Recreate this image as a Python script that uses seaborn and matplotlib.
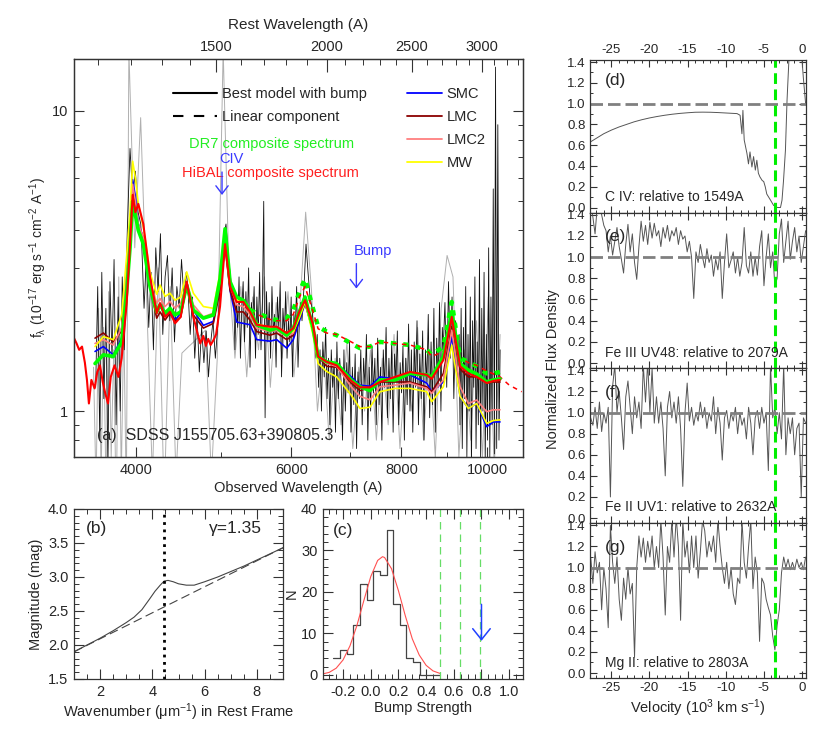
import numpy as np
import pandas as pd
import matplotlib
matplotlib.use("Agg")
import matplotlib.pyplot as plt
import seaborn as sns
from matplotlib.ticker import (FixedLocator, FixedFormatter, MultipleLocator,
                               NullFormatter, LogLocator, FormatStrFormatter)
from matplotlib.lines import Line2D

# ---------------- DATA ----------------
ONE_PLUS_Z = 3.29

# panel (a): model / composite curves (observed wavelength, flux)
model_wave = [3594, 3673, 3770, 3853, 3904, 3938, 3965, 3993, 4024, 4077,
              4149, 4222, 4259, 4315, 4371, 4429, 4495, 4566, 4646, 4769,
              4895, 4981, 5047, 5113, 5202, 5293, 5387, 5481, 5676, 5776,
              5929, 6031, 6130, 6219, 6348, 6435, 6580, 6754, 7016, 7178,
              7369, 7563, 7868, 8180, 8544, 8657, 8925, 9122, 9322, 9526,
              9735, 9993, 10168, 10347]
mw_flux = [1.64, 1.77, 1.73, 2.1, 3.3, 4.6, 6.8, 6.0, 4.9, 4.1,
           2.9, 2.45, 2.63, 2.41, 2.47, 2.34, 2.4, 2.91, 2.47, 2.23,
           2.2, 2.88, 3.95, 2.73, 2.34, 2.31, 2.20, 1.96, 1.89, 1.91,
           1.82, 1.84, 2.05, 2.31, 1.8, 1.44, 1.355, 1.30, 1.13, 1.02,
           1.03, 1.16, 1.19, 1.19, 1.16, 1.075, 1.205, 1.66, 1.12, 1.02,
           1.06, 0.91, 0.93, 0.935]
lmc2_flux = [1.68, 1.73, 1.66, 1.9, 2.9, 4.0, 5.7, 5.0, 4.2, 3.8,
             2.7, 2.29, 2.37, 2.23, 2.32, 2.2, 2.29, 2.67, 2.26, 2.06,
             2.12, 2.73, 3.96, 2.63, 2.26, 2.23, 2.09, 1.89, 1.84, 1.86,
             1.77, 1.82, 2.1, 2.34, 1.85, 1.52, 1.44, 1.41, 1.205, 1.12,
             1.09, 1.205, 1.22, 1.24, 1.19, 1.145, 1.27, 1.86, 1.205, 1.06,
             1.088, 0.995, 1.01, 1.01]
lmc_flux = [1.75, 1.82, 1.70, 1.85, 2.7, 3.8, 5.5, 4.8, 4.0, 3.7,
            2.6, 2.04, 2.14, 2.01, 2.12, 1.99, 2.06, 2.63, 2.09, 1.89,
            1.96, 2.53, 3.54, 2.53, 2.14, 2.14, 2.01, 1.84, 1.79, 1.82,
            1.73, 1.79, 2.05, 2.29, 1.85, 1.52, 1.41, 1.40, 1.24, 1.17,
            1.2, 1.25, 1.25, 1.25, 1.205, 1.16, 1.335, 1.91, 1.38, 1.3,
            1.3, 1.24, 1.25, 1.25]
smc_flux = [1.58, 1.64, 1.54, 1.75, 2.8, 4.0, 5.9, 5.2, 4.2, 3.8,
            2.6, 2.12, 2.26, 2.09, 2.17, 2.01, 2.12, 2.6, 2.17, 1.93,
            1.99, 2.6, 3.75, 2.53, 1.98, 1.96, 1.94, 1.73, 1.71, 1.73,
            1.62, 1.73, 2.0, 2.29, 1.85, 1.50, 1.46, 1.44, 1.30, 1.22,
            1.21, 1.30, 1.28, 1.32, 1.24, 1.16, 1.25, 1.77, 1.12, 1.02,
            1.06, 0.887, 0.92, 0.92]
dr7_flux = [1.44, 1.54, 1.52, 1.7, 2.5, 3.5, 5.0, 4.5, 4.0, 3.6,
            2.6, 2.14, 2.26, 2.12, 2.2, 2.09, 2.14, 2.63, 2.17, 2.04,
            2.09, 2.76, 4.05, 2.7, 2.40, 2.34, 2.17, 1.94, 1.86, 1.89,
            1.79, 1.89, 2.15, 2.40, 1.9, 1.52, 1.46, 1.44, 1.27, 1.205,
            1.17, 1.27, 1.27, 1.335, 1.32, 1.30, 1.52, 2.15, 1.44, 1.37,
            1.33, 1.25, 1.27, 1.28]
hibal_wave = [3402, 3425, 3448, 3474, 3500, 3519, 3537, 3560, 3590, 3615,
              3641, 3667, 3693, 3718, 3745, 3782, 3820, 3853,
              3904, 3938, 3965, 3993, 4024, 4077, 4149, 4222, 4259, 4315,
              4371, 4429, 4495, 4566, 4646, 4700, 4730, 4769, 4800, 4830,
              4860, 4895, 4930, 4981, 5047, 5113, 5202, 5293, 5387, 5481,
              5676, 5776, 5929, 6031, 6130, 6219, 6348, 6435, 6580, 6754,
              7016, 7178, 7369, 7563, 7868, 8180, 8544, 8657, 8925, 9122,
              9322, 9526, 9735, 9993, 10168, 10347]
hibal_flux = [1.75, 1.68, 1.60, 1.64, 1.45, 1.27, 1.06, 1.27, 1.19, 1.35,
              1.42, 1.25, 1.14, 1.06, 1.30, 1.42, 1.30, 1.50,
              2.3, 3.6, 5.25, 4.6, 4.9, 4.2, 2.8, 2.12, 2.29, 2.06,
              2.14, 1.96, 2.06, 2.7, 2.06, 1.80, 1.68, 1.78, 1.65, 1.74,
              1.66, 1.72, 1.80, 2.23, 3.6, 2.6, 2.31, 2.31, 2.14, 1.94,
              1.91, 1.91, 1.82, 1.89, 2.15, 2.34, 1.95, 1.52, 1.46, 1.42,
              1.26, 1.2, 1.2, 1.25, 1.3, 1.35, 1.32, 1.28, 1.48, 2.06,
              1.41, 1.335, 1.30, 1.24, 1.26, 1.27]
lin_wave = [5387, 5481, 5676, 5776, 5929, 6031, 6130, 6219, 6348, 6435,
            6580, 6754, 7016, 7178, 7369, 7563, 7868, 8180, 8544, 8657,
            8925, 9122, 9322, 9526, 9735, 9993, 10168, 10347]
dr7_lin_flux = [2.17, 2.12, 2.04, 2.01, 2.04, 2.17, 2.5, 2.76, 2.2, 1.91,
                1.84, 1.79, 1.68, 1.62, 1.64, 1.70, 1.68, 1.66, 1.60, 1.54,
                1.64, 2.31, 1.50, 1.46, 1.41, 1.335, 1.335, 1.35]
hibal_lin_wave = lin_wave + [10600, 10950]
hibal_lin_flux = [2.14, 2.10, 2.02, 2.00, 2.0, 2.1, 2.4, 2.6, 2.15, 1.88,
                  1.82, 1.80, 1.70, 1.64, 1.64, 1.70, 1.68, 1.66, 1.60, 1.52,
                  1.58, 2.12, 1.50, 1.45, 1.42, 1.36, 1.33, 1.30, 1.22, 1.16]

# observed spectrum (black): segments of log-uniform pixels (start, end, flux)
obs_segments = [
    (3600, 3900, [1.2, 2.6, 0.8, 2.9, 1.1, 2.2, 0.65, 2.7, 1.5, 3.2, 0.9,
                  2.4, 1.0, 2.8, 1.6, 3.0]),
    (3910, 4050, [4.0, 7.5, 5.2, 6.3, 4.6, 4.2]),
    (4060, 4560, [3.6, 2.2, 3.3, 1.9, 2.9, 1.6, 3.5, 2.5, 3.9, 1.8, 2.8, 3.3,
                  2.0, 3.0, 1.7, 2.6, 2.2, 3.2, 2.4, 2.9]),
    (4580, 4950, [2.6, 1.8, 2.4, 1.5, 2.1, 1.35, 1.9, 1.45, 1.85, 1.3, 1.7,
                  2.0, 1.5, 1.9]),
    (4970, 5150, [2.3, 3.1, 3.8, 4.2, 3.3, 2.8, 2.3]),
    (5160, 6150, [2.6, 1.6, 2.4, 1.9, 2.8, 1.5, 2.2, 2.7, 1.7, 2.5, 1.9, 3.0,
                  1.4, 2.3, 2.0, 2.6, 1.5, 2.4, 1.8, 2.9, 1.6, 2.2, 5.0, 0.95,
                  2.5, 1.7, 2.3, 1.5, 2.6, 1.8, 2.1, 1.4, 2.4, 1.9, 2.7, 1.3,
                  2.2, 1.8, 2.5, 1.5, 2.0, 1.7, 2.4, 1.3, 2.1, 1.9, 2.6, 1.4,
                  2.0, 2.3]),
    (6170, 6400, [2.0, 2.6, 3.6, 2.9, 2.4, 2.2, 1.8, 1.5]),
    (6420, 8900, [1.8, 1.2, 1.6, 1.0, 1.7, 1.3, 1.9, 1.1, 1.5, 0.9,
                  1.6, 1.2, 1.45, 0.85, 1.7, 1.1, 1.5, 1.25, 0.8, 1.6,
                  1.0, 1.45, 1.15, 1.7, 0.85, 1.4, 1.05, 1.55, 0.75, 1.35,
                  1.1, 1.6, 0.9, 1.5, 1.2, 1.8, 0.8, 1.4, 1.0, 1.65,
                  1.15, 1.5, 0.9, 1.75, 1.05, 1.4, 0.8, 1.6, 1.2, 1.9,
                  0.95, 1.5, 1.1, 1.7, 0.85, 1.55, 1.25, 1.85, 0.9, 1.45,
                  1.15, 1.65, 0.8, 1.5, 1.05, 1.95, 1.0, 1.6, 0.85, 1.7,
                  1.2, 2.0, 0.9, 1.55, 1.1, 1.85, 0.8, 1.6, 1.25, 2.1,
                  0.95, 1.7, 1.05, 2.2, 0.85, 1.75, 1.2, 2.3, 1.0, 1.9]),
    (8920, 9300, [1.6, 2.3, 1.2, 2.7, 1.5, 2.4, 1.1, 2.0, 1.3, 1.8]),
    (9320, 10350, [0.9, 2.2, 0.75, 1.9, 1.1, 2.6, 0.7, 1.8, 1.0, 2.4,
                   0.65, 2.0, 1.2, 2.8, 0.75, 1.7, 0.9, 3.2, 0.7, 2.2,
                   1.0, 2.9, 0.68, 1.8, 0.8, 3.5, 0.7, 2.4, 0.9, 5.5,
                   0.72, 14.0, 0.75, 9.0, 0.8, 1.6]),
]
# second (grey) spectrum
grey_segments = [
    (3580, 3900, [1.4, 0.55, 2.2, 0.6, 1.9, 0.5, 2.5, 0.7, 1.6, 0.45, 2.8,
                  0.6, 2.0, 0.5]),
    (3926, 10350, [16, 3.5, 9.5,
                   2.4, 0.6, 3.0, 0.5, 2.6, 0.6, 1.56, 1.63, 1.70, 1.78, 1.86,
                   0.6, 1.5, 16, 2.8,
                   1.5, 2.6, 1.3, 2.4, 1.6, 2.8, 1.2, 2.3, 1.5, 2.5, 1.3,
                   2.2, 4.6, 2.5,
                   1.0, 1.6, 0.8, 1.5, 0.9, 1.7, 0.75, 1.4, 1.0, 1.6, 0.8,
                   1.5, 0.9, 1.8, 0.75, 1.5, 1.0, 1.9, 0.8, 1.6, 0.7, 2.2,
                   3.3, 2.8, 0.7, 1.6,
                   0.8, 2.0, 0.7, 2.4, 0.65, 1.8]),
]

civ_obs, bump_obs = 5007, 7111
rest_ticks = [1500, 2000, 2500, 3000]
obs_ticks = [4000, 6000, 8000, 10000]

# panel (b): extinction curve
wn = [1.0, 1.5, 2.0, 2.5, 3.0, 3.3, 3.6, 3.9, 4.1, 4.3, 4.45, 4.6, 4.8,
      5.0, 5.3, 5.6, 6.0, 6.5, 7.0, 7.5, 8.0, 8.5, 9.0]
mag_best = [1.90, 2.00, 2.10, 2.21, 2.33, 2.41, 2.52, 2.68, 2.79, 2.88,
            2.94, 2.95, 2.93, 2.90, 2.88, 2.88, 2.93, 3.00, 3.08, 3.16,
            3.25, 3.34, 3.43]
wn_lin = [1.0, 9.0]
mag_lin = [1.90, 3.43]
bump_center = 4.45
gamma_text = "γ=1.35"

# panel (c): bump strength distribution
bin_edges = [-0.270, -0.222, -0.174, -0.126, -0.078, -0.030, 0.018, 0.066,
             0.114, 0.162, 0.210, 0.258, 0.306, 0.354, 0.402, 0.450, 0.498]
counts = [4, 6, 5, 12, 22, 18, 25, 24, 35, 17, 12, 4, 3, 0, 0, 0]
gauss_x = [-0.35, -0.30, -0.25, -0.20, -0.15, -0.10, -0.05, 0.00, 0.05,
           0.085, 0.10, 0.15, 0.20, 0.25, 0.30, 0.35, 0.40, 0.45, 0.50]
gauss_y = [0.2, 0.6, 1.6, 3.6, 7.0, 11.9, 17.9, 23.7, 27.6, 28.5, 28.3,
           25.6, 20.3, 14.2, 8.7, 4.8, 2.3, 0.95, 0.35]
bump_limits = [0.5, 0.645, 0.79]
target_bump = 0.8

# panels (d)-(g): normalized absorption profiles
vel_civ = [-28, -27, -26, -25, -24, -23, -22, -21, -20, -19, -18, -17, -16,
           -15, -14, -13, -12, -11, -10, -9, -8.5, -8.1, -7.86, -7.73, -7.56,
           -7.2, -7.0, -6.8, -6.55, -6.33, -6.1, -5.9, -5.7, -5.5, -5.2, -5.0,
           -4.8, -4.6, -4.1, -3.7, -3.2, -2.8, -2.6, -2.4, -2.15, -1.94, -1.7,
           -1.4, -1.0, -0.5, 0.0, 0.2, 0.5]
flux_civ = [0.62, 0.665, 0.71, 0.745, 0.775, 0.80, 0.825, 0.845, 0.862,
            0.876, 0.888, 0.898, 0.906, 0.912, 0.917, 0.918, 0.917, 0.914,
            0.91, 0.906, 0.904, 0.888, 0.71, 0.935, 0.65, 0.52, 0.42, 0.535,
            0.39, 0.49, 0.36, 0.455, 0.33, 0.295, 0.26, 0.25, 0.2, 0.13, 0.07,
            0.02, 0.0, 0.0, 0.07, 0.26, 0.55, 1.03, 1.41, 1.9, 2.4, 2.2, 1.45,
            1.25, 1.0]
vel_range = (-28.0, 0.5)
flux_fe3 = [1.45, 1.50, 1.38, 1.22, 1.48, 1.52, 1.40, 1.30,
            1.25, 1.05, 1.20, 1.02, 1.15, 1.28, 1.10, 0.98,
            0.85, 1.12, 1.31, 1.05, 1.22, 0.95, 0.79, 1.10,
            1.34, 1.15, 1.30, 1.12, 1.33, 1.18, 1.32, 1.20,
            1.25, 1.10, 1.28, 1.18, 1.30, 1.15, 1.25, 1.20,
            1.28, 1.12, 1.25, 1.17, 1.20, 1.05, 1.15, 1.00,
            0.61, 1.05, 0.95, 1.12, 1.00, 0.90, 1.08, 0.95,
            1.02, 0.82, 0.98, 0.88, 1.05, 0.61, 0.95, 1.22,
            0.90, 0.97, 1.05, 0.85, 1.00, 0.82, 0.95, 1.28,
            0.92, 0.85, 1.05, 0.82, 1.00, 0.83, 1.10, 1.25,
            0.73, 1.00, 1.22, 0.90, 1.05, 0.72, 0.80, 1.22,
            1.36, 0.95, 1.15, 1.34, 0.98, 1.15, 1.28, 1.05,
            1.20, 0.95, 1.10, 1.25]
flux_fe2 = [0.65, 0.95, 0.88, 1.05, 0.85, 1.10, 0.82, 1.00,
            0.90, 1.05, 0.20, 1.25, 1.45, 1.00, 1.20, 0.95,
            0.65, 1.15, 1.30, 1.05, 0.80, 1.15, 0.95, 1.10,
            0.85, 1.45, 1.10, 1.48, 1.00, 1.42, 0.90, 1.15,
            0.90, 1.10, 0.85, 0.40, 1.05, 1.20, 0.95, 1.10,
            0.90, 1.15, 0.85, 0.30, 1.00, 1.28, 0.92, 1.05,
            0.88, 1.00, 0.92, 1.10, 0.95, 1.05, 0.85, 1.00,
            0.92, 1.15, 0.80, 1.05, 0.90, 0.55, 0.95, 1.02,
            0.85, 1.00, 0.92, 1.05, 0.80, 1.00, 0.88, 0.95,
            0.75, 1.05, 0.90, 0.60, 0.95, 1.02, 0.85, 1.05,
            0.90, 1.00, 0.45, 1.45, 0.95, 1.05, 0.80, 1.00,
            0.75, 1.45, 0.60, 0.95, 0.80, 0.95, 0.60, 0.85,
            0.90, 0.20, 0.95, 0.90]
flux_mg2 = [0.90, 1.10, 0.85, 1.15, 0.95, 1.05, 0.60, 1.00,
            0.80, 0.43, 1.40, 1.05, 0.85, 1.10, 0.70, 0.50,
            0.90, 0.70, 1.00, 0.75, 0.85, 0.15, 1.00, 1.30,
            1.10, 1.28, 1.05, 1.25, 1.10, 1.30, 1.00, 1.20,
            1.00, 1.45, 1.10, 0.55, 1.20, 1.05, 1.45, 1.10,
            1.48, 1.20, 0.50, 1.45, 1.10, 1.25, 0.95, 1.30,
            1.00, 1.30, 0.90, 1.15, 1.45, 1.35, 1.10, 1.25,
            1.15, 1.30, 1.05, 1.45, 1.20, 1.00, 0.85, 1.05,
            0.80, 1.00, 0.75, 0.65, 0.90, 0.85, 1.45, 1.05,
            0.90, 1.20, 1.45, 0.80, 1.10, 0.95, 0.30, 0.90,
            0.85, 0.70, 0.62, 0.55, 0.35, 0.22, 0.45, 0.60,
            0.95, 1.10, 1.00, 1.08, 0.98, 1.05, 0.98, 1.08,
            1.00, 1.05, 0.98, 1.10]
line_labels = ["C IV: relative to 1549A", "Fe III UV48: relative to 2079A",
               "Fe II UV1: relative to 2632A", "Mg II: relative to 2803A"]
panel_tags = ["(d)", "(e)", "(f)", "(g)"]
v_outflow = -3.5

# ---------------- STYLE ----------------
sns.set_style("ticks")
plt.rcParams["font.family"] = ["Liberation Sans", "DejaVu Sans"]
plt.rcParams["mathtext.fontset"] = "custom"
plt.rcParams["mathtext.rm"] = "Liberation Sans"
plt.rcParams["mathtext.it"] = "Liberation Sans:italic"
plt.rcParams["mathtext.default"] = "regular"
plt.rcParams["axes.unicode_minus"] = False
plt.rcParams["font.size"] = 10.5
plt.rcParams["axes.linewidth"] = 0.9
plt.rcParams["axes.edgecolor"] = "#333333"

W, H = 830.0, 738.0
fig = plt.figure(figsize=(8.3, 7.38), dpi=100)


def box(x0, y0, x1, y1):
    return [x0 / W, 1 - y1 / H, (x1 - x0) / W, (y1 - y0) / H]


def style(ax, size=10):
    ax.tick_params(which="both", direction="in", top=True, right=True,
                   color="#333333", labelsize=size, pad=4)
    ax.tick_params(which="major", length=7, width=0.8)
    ax.tick_params(which="minor", length=3.5, width=0.7)


def line(ax, x, y, **kw):
    sns.lineplot(x=x, y=y, ax=ax, estimator=None, sort=False, legend=False, **kw)
    return ax.lines[-1]


def spectrum(segments):
    wave = np.concatenate([np.geomspace(a, b, len(v)) for a, b, v in segments])
    flux = np.concatenate([v for a, b, v in segments])
    return wave, flux


# ---------------- PANEL (a) ----------------
axa = fig.add_axes(box(74, 59, 523, 457))
axa.set_xscale("log")
axa.set_yscale("log")
wave_grey, flux_grey = spectrum(grey_segments)
wave_black, flux_black = spectrum(obs_segments)
line(axa, wave_grey, flux_grey, color="#b0b0b0", lw=0.7)
line(axa, wave_black, flux_black, color="#111111", lw=0.6)
l = line(axa, lin_wave, dr7_lin_flux, color="#00ff00", lw=3.2)
l.set_dashes([1.2, 1.6])
l = line(axa, hibal_lin_wave, hibal_lin_flux, color="#ff0000", lw=1.1)
l.set_dashes([3, 3])
line(axa, model_wave, smc_flux, color="#0000ff", lw=1.2)
line(axa, model_wave, lmc_flux, color="#8b0000", lw=1.2)
line(axa, model_wave, lmc2_flux, color="#ff7f7f", lw=1.2)
line(axa, model_wave, mw_flux, color="#ffff00", lw=1.2)
line(axa, model_wave, dr7_flux, color="#00ff00", lw=2.6)
line(axa, hibal_wave, hibal_flux, color="#ff0000", lw=1.5)

axa.set_xlim(3402, 10987)
axa.set_ylim(0.703, 14.9)
axa.xaxis.set_major_locator(FixedLocator(obs_ticks))
axa.xaxis.set_major_formatter(FixedFormatter([str(t) for t in obs_ticks]))
axa.xaxis.set_minor_locator(FixedLocator([5000, 7000, 9000]))
axa.xaxis.set_minor_formatter(NullFormatter())
axa.yaxis.set_major_locator(FixedLocator([1, 10]))
axa.yaxis.set_major_formatter(FixedFormatter(["1", "10"]))
axa.yaxis.set_minor_locator(LogLocator(base=10, subs=np.arange(2, 10)))
axa.yaxis.set_minor_formatter(NullFormatter())
style(axa, 10.5)
axa.tick_params(which="both", top=False)
axa.set_xlabel("Observed Wavelength (A)", fontsize=10.5, labelpad=3)
axa.set_ylabel(r"f$_\lambda$ (10$^{-17}$ erg s$^{-1}$ cm$^{-2}$ A$^{-1}$)",
               fontsize=10, labelpad=2)

axt = axa.twiny()
axt.set_xscale("log")
axt.set_xlim(3402 / ONE_PLUS_Z, 10987 / ONE_PLUS_Z)
axt.xaxis.set_major_locator(FixedLocator(rest_ticks))
axt.xaxis.set_major_formatter(FixedFormatter([str(t) for t in rest_ticks]))
axt.xaxis.set_minor_locator(FixedLocator([t for t in range(1100, 3400, 100)
                                          if t not in rest_ticks]))
axt.xaxis.set_minor_formatter(NullFormatter())
axt.tick_params(which="both", direction="in", color="#333333", labelsize=10.5)
axt.tick_params(which="major", length=9, width=0.8)
axt.tick_params(which="minor", length=4.5, width=0.7)
axt.set_xlabel("Rest Wavelength (A)", fontsize=11, labelpad=8)

# legends
h1 = [Line2D([], [], color="k", lw=1.5),
      Line2D([], [], color="k", lw=1.5, dashes=(5, 5))]
leg1 = axa.legend(h1, ["Best model with bump", "Linear component"],
                  loc="upper left", bbox_to_anchor=(0.221, 0.930),
                  frameon=False, borderpad=0, borderaxespad=0,
                  handlelength=3.0, handletextpad=0.35, labelspacing=0.62,
                  fontsize=10.5)
axa.add_artist(leg1)
h2 = [Line2D([], [], color=c, lw=1.3) for c in
      ["#0000ff", "#8b0000", "#ff7f7f", "#ffff00"]]
axa.legend(h2, ["SMC", "LMC", "LMC2", "MW"], loc="upper left",
           bbox_to_anchor=(0.741, 0.930), frameon=False, borderpad=0,
           borderaxespad=0, handlelength=2.4, handletextpad=0.35,
           labelspacing=0.62, fontsize=10.5)
axa.text(0.441, 0.786, "DR7 composite spectrum", color="#22ee22",
         transform=axa.transAxes, ha="center", va="center", fontsize=10.5)
axa.text(0.4365, 0.714, "HiBAL composite spectrum", color="#ff2020",
         transform=axa.transAxes, ha="center", va="center", fontsize=10.5)
axa.text(0.052, 0.055, "(a)  SDSS J155705.63+390805.3",
         transform=axa.transAxes, ha="left", va="center", fontsize=11.5)
arrow_kw = dict(arrowstyle="->,head_length=0.55,head_width=0.42",
                color="#3a3aff", lw=1.0, shrinkA=0, shrinkB=0)
axa.annotate("", xy=(civ_obs, 5.25), xytext=(civ_obs, 6.26),
             arrowprops=arrow_kw)
axa.text(5126, 6.92, "CIV", color="#3a3aff", ha="center", va="center",
         fontsize=10.5)
axa.annotate("", xy=(bump_obs, 2.56), xytext=(bump_obs, 3.1),
             arrowprops=arrow_kw)
axa.text(7430, 3.41, "Bump", color="#3a3aff", ha="center", va="center",
         fontsize=10.5)

# ---------------- PANEL (b) ----------------
axb = fig.add_axes(box(74, 509, 283, 679))
line(axb, wn, mag_best, color="#444444", lw=0.8)
l = line(axb, wn_lin, mag_lin, color="#444444", lw=0.8)
l.set_dashes([8, 4])
axb.axvline(bump_center, color="k", lw=2.0, ls=":")
axb.set_xlim(1, 9)
axb.set_ylim(1.5, 4.0)
axb.xaxis.set_major_locator(MultipleLocator(2))
axb.xaxis.set_minor_locator(MultipleLocator(0.5))
axb.yaxis.set_major_locator(MultipleLocator(0.5))
axb.yaxis.set_minor_locator(MultipleLocator(0.1))
axb.yaxis.set_major_formatter(FormatStrFormatter("%.1f"))
style(axb, 10.5)
axb.set_xlabel(r"Wavenumber ($\mu$m$^{-1}$) in Rest Frame", fontsize=10.5,
               labelpad=2)
axb.set_ylabel("Magnitude (mag)", fontsize=10.5)
axb.text(0.057, 0.888, "(b)", transform=axb.transAxes, ha="left",
         va="center", fontsize=12.5)
axb.text(0.647, 0.888, gamma_text, transform=axb.transAxes, ha="left",
         va="center", fontsize=12.5)

# ---------------- PANEL (c) ----------------
axc = fig.add_axes(box(323, 509, 523, 679))
centers = (np.array(bin_edges[:-1]) + np.array(bin_edges[1:])) / 2
sns.histplot(x=centers, weights=counts, bins=bin_edges, element="step",
             fill=False, color="#444444", lw=0.9, ax=axc)
line(axc, gauss_x, gauss_y, color="#ff5050", lw=0.8)
for xv in bump_limits:
    axc.axvline(xv, color="#66dd66", lw=0.9, dashes=(6, 4))
axc.annotate("", xy=(target_bump, 8.2), xytext=(target_bump, 17),
             arrowprops=dict(arrowstyle="->,head_length=0.75,head_width=0.6",
                             color="#2040ff", lw=1.1, shrinkA=0, shrinkB=0))
axc.set_xlim(-0.345, 1.10)
axc.set_ylim(-1, 40)
axc.xaxis.set_major_locator(FixedLocator([-0.2, 0.0, 0.2, 0.4, 0.6, 0.8, 1.0]))
axc.xaxis.set_major_formatter(FormatStrFormatter("%.1f"))
axc.xaxis.set_minor_locator(MultipleLocator(0.05))
axc.yaxis.set_major_locator(MultipleLocator(10))
axc.yaxis.set_minor_locator(MultipleLocator(2))
style(axc, 10.5)
axc.set_xlabel("Bump Strength", fontsize=10.5, labelpad=2)
axc.set_ylabel("N", fontsize=10.5, labelpad=2)
axc.text(0.048, 0.876, "(c)", transform=axc.transAxes, ha="left",
         va="center", fontsize=12.5)

# ---------------- PANELS (d)-(g) ----------------
edges_y = [60, 212.7, 368.3, 523.3, 678.3]
vgrid = np.linspace(vel_range[0], vel_range[1], len(flux_fe3))
profiles = [(vel_civ, flux_civ), (vgrid, flux_fe3), (vgrid, flux_fe2),
            (vgrid, flux_mg2)]
tag_y = [0.869, 0.844, 0.847, 0.847]
lab_y = [0.103, 0.100, 0.103, 0.097]
for k in range(4):
    ax = fig.add_axes(box(590, edges_y[k], 806, edges_y[k + 1]))
    vx, fy = profiles[k]
    line(ax, vx, fy, color="#555555", lw=0.7)
    ax.axhline(1.0, color="#808080", lw=2.0, dashes=(4.5, 1.8))
    ax.axvline(v_outflow, color="#00ee00", lw=2.2, dashes=(3.5, 1.8))
    ax.set_xlim(-27.8, 0.55)
    ax.set_ylim(-0.05, 1.42)
    ax.xaxis.set_major_locator(MultipleLocator(5))
    ax.xaxis.set_minor_locator(MultipleLocator(1))
    ax.yaxis.set_major_locator(MultipleLocator(0.2))
    ax.yaxis.set_minor_locator(MultipleLocator(0.1))
    ax.yaxis.set_major_formatter(FormatStrFormatter("%.1f"))
    style(ax, 9.5)
    ax.tick_params(which="major", length=5)
    ax.tick_params(which="minor", length=2.5)
    ax.tick_params(labeltop=(k == 0), labelbottom=(k == 3), pad=3)
    ax.text(0.069, tag_y[k], panel_tags[k], transform=ax.transAxes,
            ha="left", va="center", fontsize=12.5)
    ax.text(0.069, lab_y[k], line_labels[k], transform=ax.transAxes,
            ha="left", va="center", fontsize=10)
    if k == 3:
        ax.set_xlabel(r"Velocity (10$^3$ km s$^{-1}$)", fontsize=10.5,
                      labelpad=2)

fig.text(553 / W, 1 - 369 / H, "Normalized Flux Density", rotation=90,
         ha="center", va="center", fontsize=10.5)

fig.savefig("out.png", dpi=100)
